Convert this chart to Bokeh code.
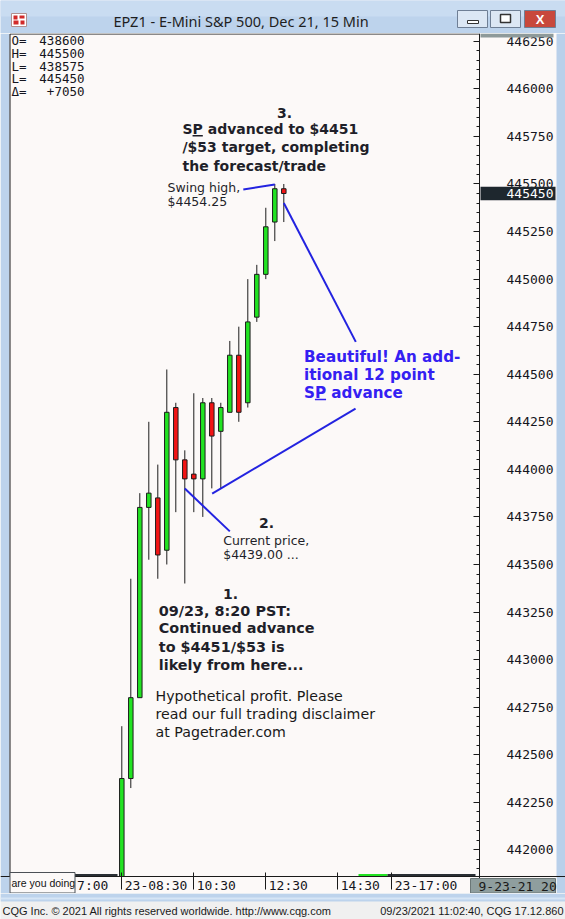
from bokeh.plotting import figure
from bokeh.models import (ColumnDataSource, Range1d, FixedTicker, Label, AllLabels, LinearAxis,
                          BasicTickFormatter, CustomJSTickFormatter, BoxAnnotation)
from bokeh.layouts import column
from bokeh.core.properties import value
from bokeh.embed import file_html
from bokeh.resources import INLINE

# ---------------- data (15-min bars, 09/23/2021, price x100) ----------------
bar_index = list(range(19))
opens  = [441700, 442375, 442800, 443800, 443850, 443575, 444325, 444050, 443975, 443950,
          444350, 444200, 444300, 444600, 444350, 444800, 445025, 445300, 445475]
highs  = [442650, 443425, 443875, 444250, 444025, 444525, 444350, 444100, 444400, 444375,
          444375, 444350, 444675, 444750, 445000, 445075, 445375, 445500, 445500]
lows   = [441675, 442325, 442800, 443525, 443425, 443500, 443775, 443400, 443775, 443750,
          443900, 443900, 444300, 444250, 444325, 444775, 445000, 445200, 445300]
closes = [442375, 442800, 443800, 443875, 443550, 444300, 444050, 443950, 443950, 444350,
          444175, 444325, 444600, 444300, 444775, 445025, 445275, 445475, 445450]

price_ticks = [442000, 442250, 442500, 442750, 443000, 443250, 443500, 443750,
               444000, 444250, 444500, 444750, 445000, 445250, 445500, 445750, 446000, 446250]
time_tick_pos = [-5.3, 0, 8, 16, 24, 30]
time_tick_labels = ["7:00", "23-08:30", "10:30", "12:30", "14:30", "23-17:00"]

ohlc_names = ["O=", "H=", "L=", "L=", "\u0394="]
ohlc_values = ["438600", "445500", "438575", "445450", "+7050"]

title_text = "EPZ1 - E-Mini S&P 500, Dec 21, 15 Min"
status_left = "CQG Inc. \u00a9 2021 All rights reserved worldwide. http://www.cqg.com"
status_right = "09/23/2021 11:02:40, CQG 17.12.860"

# ---------------- styling ----------------
BG = "#fcf9f8"
FRAME_BLUE = "#bdd3ec"
DARK = "#1f1f29"
AXIS_TXT = "#151520"
BLUE_TXT = "#3420f2"
BLUE_LINE = "#2323e0"
UP = "#22e322"
DOWN = "#f21414"
MONO = "DejaVu Sans Mono"
W = 565

# chart geometry (window pixels): chart box x 10..479, y 33..876; 9 px per bar
CHART_TOP_V, CHART_BOT_V = 446291, 441860
PXY = (CHART_TOP_V - CHART_BOT_V) / 843.0


def X(px):
    return (px - 121.3) / 9.0


def Y(py):
    return CHART_TOP_V - (py - 33) * PXY


# ---------------- title bar ----------------
top = figure(width=W, height=33, x_range=Range1d(0, W), y_range=Range1d(33, 0),
             output_backend="svg", toolbar_location=None, min_border=0)
top.axis.visible = False
top.grid.visible = False
top.outline_line_color = None
top.background_fill_color = FRAME_BLUE
top.border_fill_color = FRAME_BLUE
top.quad(left=[0], right=[W], top=[0], bottom=[16], fill_color="#c9dcf1", line_color=None)
top.quad(left=[457, 490, 524], right=[487, 520, 555], top=[10, 10, 10], bottom=[27, 27, 27],
         fill_color=["#dce7f4", "#dce7f4", "#c8483c"], line_color="#6f7f95", line_width=1)
top.quad(left=[467], right=[478], top=[20], bottom=[23], fill_color="white", line_color="#333333")
top.quad(left=[500], right=[510], top=[14], bottom=[22], fill_color="white", line_color="#333333",
         line_width=1.5)
top.text(x=[539.5], y=[19], text=["X"], text_font=value("Liberation Sans"), text_font_style="bold",
         text_font_size="13px", text_color="white", text_align="center", text_baseline="middle")
top.quad(left=[11], right=[26], top=[13], bottom=[26], fill_color="white", line_color="#b09090")
top.quad(left=[13, 19, 13, 20], right=[17, 24, 18, 24], top=[15, 15, 20, 20], bottom=[19, 18, 24, 24],
         fill_color="#d12a2a", line_color=None)
top.text(x=[240.5], y=[20], text=[title_text], text_font=value("Noto Sans"),
         text_font_size="14.5px", text_color="#1e1e1e", text_align="center", text_baseline="middle")

# ---------------- main chart (frame covers the whole window strip 33..893) ----------------
p = figure(width=W, height=860, x_range=Range1d(X(0), X(W)), y_range=Range1d(Y(893), Y(33)),
           y_axis_location="right", output_backend="svg", toolbar_location=None, min_border=0)
p.background_fill_color = BG
p.border_fill_color = BG
p.outline_line_color = None
p.grid.visible = False

# window side strips
p.quad(left=[X(0)], right=[X(9)], top=[Y(33)], bottom=[Y(893)], fill_color=FRAME_BLUE, line_color=None)
p.quad(left=[X(556)], right=[X(W)], top=[Y(33)], bottom=[Y(893)], fill_color="#b9d0ea", line_color=None)

colors = [UP if c >= o else DOWN for o, c in zip(opens, closes)]
src = ColumnDataSource(dict(x=bar_index, o=opens, h=highs, l=lows, c=closes,
                            top=[max(o, c) for o, c in zip(opens, closes)],
                            bot=[min(o, c) for o, c in zip(opens, closes)],
                            color=colors))
p.segment(x0="x", y0="l", x1="x", y1="h", source=src, line_color="#1c1c1c", line_width=1)
p.vbar(x="x", width=0.5, top="top", bottom="bot", source=src, fill_color="color",
       line_color="#1c1c1c", line_width=1)

# time-axis strip below the chart box (hides anything under the chart bottom)
p.quad(left=[X(9.5)], right=[X(556)], top=[CHART_BOT_V], bottom=[Y(893)], fill_color=BG, line_color=None)
# scroll indicator along the chart bottom
p.quad(left=[X(10), X(358), X(387)], right=[X(117), X(387), X(475)],
       top=[Y(873.5)] * 3, bottom=[Y(876.5)] * 3,
       fill_color=["#2a2f34", "#22e322", "#2a2f34"], line_color=None)
# chart box left & top borders
p.segment(x0=[X(9.5), X(9.5)], y0=[Y(33.5), Y(33.5)], x1=[X(9.5), X(479)], y1=[Y(876), Y(33.5)],
          line_color="#1a1a1a", line_width=1)

# price axis (right edge of the chart box)
ya = p.yaxis[0]
ya.fixed_location = X(479)
ya.ticker = FixedTicker(ticks=price_ticks, minor_ticks=list(range(441900, 446300, 50)))
ya.formatter = BasicTickFormatter(use_scientific=False)
ya.major_label_text_font = MONO
ya.major_label_text_font_size = "13px"
ya.major_label_text_color = AXIS_TXT
ya.major_tick_in = 6
ya.major_tick_out = 0
ya.minor_tick_in = 3
ya.minor_tick_out = 0
ya.major_label_standoff = 27
ya.axis_line_color = "#1a1a1a"
ya.major_tick_line_color = "#1a1a1a"
ya.minor_tick_line_color = "#1a1a1a"

# time axis: separators (its labels are not painted; see the label axis below)
xa = p.xaxis[0]
xa.fixed_location = CHART_BOT_V
xa.ticker = FixedTicker(ticks=time_tick_pos, minor_ticks=[])
xa.major_label_text_color = None
xa.major_tick_out = 13
xa.major_tick_in = 4
xa.minor_tick_line_color = None
xa.axis_line_color = "#1a1a1a"
xa.major_tick_line_color = "#1a1a1a"

# time axis: labels, written just right of each separator
CHAR_W = 0.602 * 13
label_pos = [t + (3 + len(s) * CHAR_W / 2) / 9.0 for t, s in zip(time_tick_pos, time_tick_labels)]
xb = LinearAxis(fixed_location=CHART_BOT_V, ticker=FixedTicker(ticks=label_pos, minor_ticks=[]),
                formatter=CustomJSTickFormatter(args=dict(pos=label_pos, lab=time_tick_labels), code="""
    for (let i = 0; i < pos.length; i++) { if (Math.abs(pos[i] - tick) < 1e-6) return lab[i]; }
    return "";
"""))
xb.major_label_policy = AllLabels()
xb.major_label_text_font = MONO
xb.major_label_text_font_size = "13px"
xb.major_label_text_color = AXIS_TXT
xb.major_tick_out = 0
xb.major_tick_in = 0
xb.major_tick_line_color = None
xb.minor_tick_line_color = None
xb.axis_line_color = None
xb.major_label_standoff = 1
p.add_layout(xb, "below")

# OHLC summary box (top-left)
ohlc_y = [Y(40), Y(52.8), Y(65.5), Y(78.2), Y(91)]
p.text(x=[X(11)] * 5, y=ohlc_y, text=ohlc_names, text_font=value(MONO), text_font_size="12.5px",
       text_color=AXIS_TXT, text_baseline="middle")
p.text(x=[X(84)] * 5, y=ohlc_y, text=ohlc_values, text_font=value(MONO), text_font_size="12.5px",
       text_color=AXIS_TXT, text_baseline="middle", text_align="right")

# gray cap strip at top of price scale
p.add_layout(BoxAnnotation(left=X(480), right=X(553), top=Y(33), bottom=Y(37),
                           fill_color="#8e9a9a", fill_alpha=1, line_color=None))
# last price box
p.add_layout(BoxAnnotation(left=X(480), right=X(555), top=closes[-1] + 6.8 * PXY,
                           bottom=closes[-1] - 6.8 * PXY, fill_color="#1e272e", fill_alpha=1,
                           line_color=None))
p.add_layout(Label(x=X(506), y=closes[-1], text=str(closes[-1]), text_font=MONO,
                   text_font_size="13px", text_color="white", text_baseline="middle"))
# date box at the right of the time axis
p.add_layout(BoxAnnotation(left=X(470), right=X(555), top=Y(878), bottom=Y(892.5),
                           fill_color="#8f9e9e", fill_alpha=1, line_color="#6b7777", line_alpha=1))
p.add_layout(Label(x=X(478), y=Y(885.5), text="9-23-21 20", text_font=MONO,
                   text_font_size="13px", text_color="#1a1a1a", text_baseline="middle"))
# small hint box at bottom-left
p.add_layout(BoxAnnotation(left=X(9.5), right=X(74.5), top=Y(872), bottom=Y(892.5),
                           fill_color=BG, fill_alpha=1, line_color="#4b5056", line_alpha=1))
p.add_layout(Label(x=X(11), y=Y(882), text="are you doing", text_font="Liberation Sans",
                   text_font_size="10.5px", text_color="#111111", text_baseline="middle"))

# pointer lines
ptr_x0 = [13.5, 18.0, 25.97, 7.0]
ptr_y0 = [445471, 445400, 444319, 443899]
ptr_x1 = [17.0, 26.0, 10.04, 12.0]
ptr_y1 = [445497, 444670, 443872, 443674]
p.segment(x0=ptr_x0, y0=ptr_y0, x1=ptr_x1, y1=ptr_y1, line_color=BLUE_LINE, line_width=2)


def txt(px, pys, lines, size, bold=False, color=DARK, align="left"):
    p.text(x=[X(px)] * len(lines), y=[Y(v) for v in pys], text=lines, text_font=value("DejaVu Sans"),
           text_font_style="bold" if bold else "normal", text_font_size=size,
           text_color=color, text_align=align, text_baseline="middle")


txt(284, [112.5], ["3."], "14px", bold=True, align="center")
b_lines = ["SP advanced to $4451", "/$53 target, completing", "the forecast/trade"]
b_py = [128.3, 146.7, 165]
txt(182, b_py, b_lines, "14px", bold=True)
txt(167, [187, 200.5], ["Swing high,", "$4454.25"], "12.5px")
d_lines = ["Beautiful! An add-", "itional 12 point", "SP advance"]
d_py = [356, 374, 392]
txt(303.5, d_py, d_lines, "15.2px", bold=True, color=BLUE_TXT)
txt(266, [522.7], ["2."], "14px", bold=True, align="center")
txt(222.7, [540, 553.5], ["Current price,", "$4439.00 ..."], "12.5px")
txt(230, [593.3], ["1."], "14px", bold=True, align="center")
h_lines = ["09/23, 8:20 PST:", "Continued advance", "to $4451/$53 is", "likely from here..."]
txt(158.3, [610, 627.7, 646, 664.3], h_lines, "14.4px", bold=True)
i_lines = ["Hypothetical profit. Please", "read our full trading disclaimer", "at Pagetrader.com"]
txt(155, [695.7, 713.3, 731], i_lines, "14.2px", color="#1a1a1a")


# underline of "P" in "SP" (DejaVu Sans Bold advance widths: S .718, P .733 em)
def underline(px_left, py_mid, size, color):
    x0 = px_left + 0.718 * size
    x1 = x0 + 0.733 * size
    p.segment(x0=[X(x0)], y0=[Y(py_mid + 7)], x1=[X(x1)], y1=[Y(py_mid + 7)],
              line_color=color, line_width=1.5)


underline(182, b_py[0], 14, DARK)
underline(303.5, d_py[2], 15.2, BLUE_TXT)

# ---------------- status bar ----------------
st = figure(width=W, height=26, x_range=Range1d(0, W), y_range=Range1d(919, 893),
            output_backend="svg", toolbar_location=None, min_border=0)
st.axis.visible = False
st.grid.visible = False
st.outline_line_color = None
st.background_fill_color = "#f0f0f0"
st.border_fill_color = "#f0f0f0"
st.quad(left=[0], right=[W], top=[893], bottom=[901], fill_color=FRAME_BLUE, line_color=None)
st.quad(left=[0], right=[W], top=[897], bottom=[899], fill_color="#d6e5f5", line_color=None)
st.text(x=[2], y=[910], text=[status_left], text_font=value("Liberation Sans"),
        text_font_size="11px", text_color="#1a1a1a", text_baseline="middle")
st.text(x=[563], y=[910], text=[status_right], text_font=value("Liberation Sans"),
        text_font_size="11px", text_color="#1a1a1a", text_baseline="middle", text_align="right")

layout = column(top, p, st, spacing=0)
open("out.html", "w").write(file_html(layout, INLINE))
